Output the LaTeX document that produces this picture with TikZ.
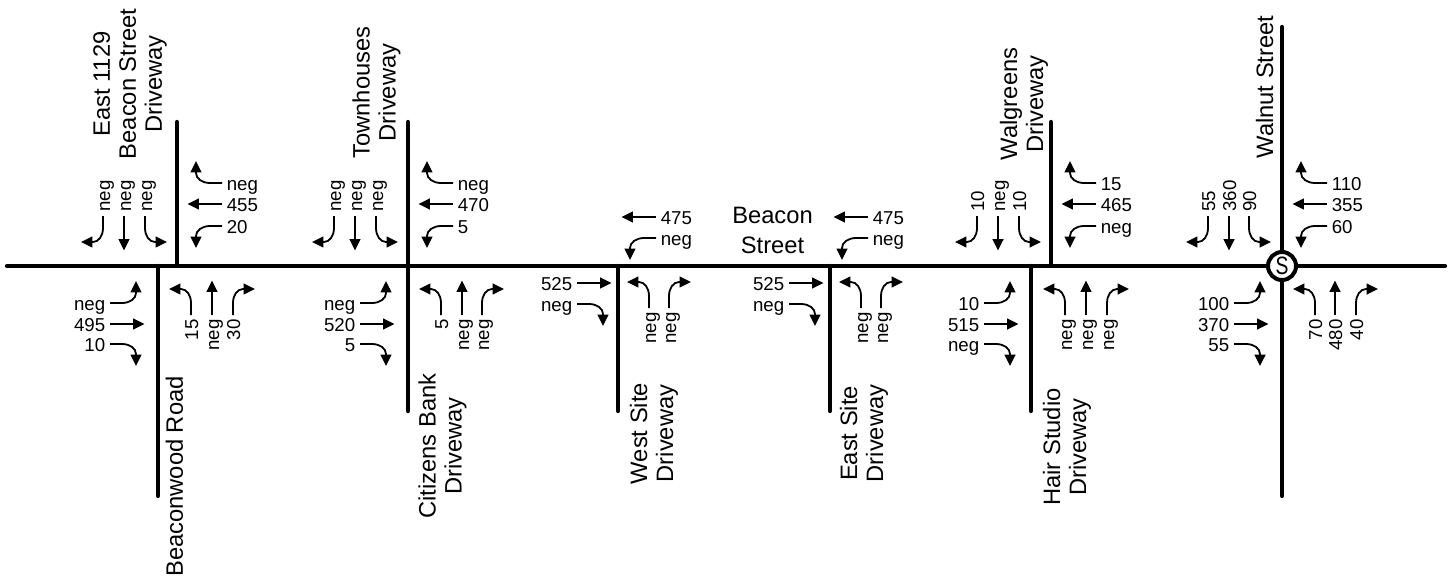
\documentclass[tikz,border=0pt]{standalone}
\usepackage{fontspec}
\setmainfont{Liberation Sans}
\usetikzlibrary{arrows.meta}
\tikzset{
  road/.style={line width=3.2pt, color=black, line cap=round},
  mvarrow/.style={-{Triangle[length=8.6pt,width=8.2pt]}, line width=1.35pt, color=black},
  vol/.style={inner sep=0pt, font=\fontsize{14}{16}\selectfont},
  street/.style={inner sep=0pt, align=center, font=\fontsize{17.8}{19.5}\selectfont},
  signal/.style={circle, draw=black, fill=white, line width=3pt, minimum size=21pt, inner sep=0pt,
    font=\fontsize{14.5}{16}\selectfont}
}
% one arrow: name, x, y, heading
\newcommand{\gothru}[4]{
  \coordinate (#1s) at (#2,#3);
  \path (#1s) ++(#4:34.5) coordinate (#1t);
  \draw[mvarrow] (#1s) -- (#1t);
}
\newcommand{\turnleft}[4]{
  \coordinate (#1s) at (#2,#3);
  \path (#1s) ++(#4:12) coordinate (#1a) ++(#4:8) coordinate (#1b)
    ++(#4:6) ++(#4+90:4.5) coordinate (#1c) ++(#4+90:5.5) coordinate (#1d) ++(#4+90:12) coordinate (#1t);
  \draw[mvarrow] (#1s) -- (#1a) .. controls (#1b) and (#1c) .. (#1d) -- (#1t);
}
\newcommand{\turnright}[4]{
  \coordinate (#1s) at (#2,#3);
  \path (#1s) ++(#4:12) coordinate (#1a) ++(#4:8) coordinate (#1b)
    ++(#4:6) ++(#4-90:4.5) coordinate (#1c) ++(#4-90:5.5) coordinate (#1d) ++(#4-90:12) coordinate (#1t);
  \draw[mvarrow] (#1s) -- (#1a) .. controls (#1b) and (#1c) .. (#1d) -- (#1t);
}
% arrow plus volume: name, x, y, arrow, text
\newcommand{\wbmove}[5]{
  #4{#1}{#2}{#3}{180}
  \path (#1s) ++(4.5,-7) node[vol, anchor=base west] (#1v) {#5};
}
\newcommand{\ebmove}[5]{
  #4{#1}{#2}{#3}{0}
  \path (#1s) ++(-4.5,-7) node[vol, anchor=base east] (#1v) {#5};
}
\newcommand{\sbmove}[5]{
  #4{#1}{#2}{#3}{270}
  \path (#1s) ++(7,4) node[vol, rotate=90, anchor=base west] (#1v) {#5};
}
\newcommand{\nbmove}[5]{
  #4{#1}{#2}{#3}{90}
  \path (#1s) ++(7,-4) node[vol, rotate=90, anchor=base east] (#1v) {#5};
}
\begin{document}
\begin{tikzpicture}[x=0.75pt, y=0.75pt]
  \useasboundingbox (0,-317) rectangle (1452,266);
  % Roads (y = 0 is the main road)
  \coordinate (mainw) at (7,0);
  \coordinate (maine) at (1445,0);
  \draw[road] (mainw) -- (maine);
  \coordinate (eastn) at (177,144);  \coordinate (easts) at (177,0);
  \coordinate (woodn) at (158,0);    \coordinate (woods) at (158,-230);
  \coordinate (townn) at (408,144);  \coordinate (towns) at (408,-145);
  \coordinate (westn) at (618,0);    \coordinate (wests) at (618,-145);
  \coordinate (siten) at (830,0);    \coordinate (sites) at (830,-145);
  \coordinate (walgn) at (1051,144); \coordinate (walgs) at (1051,0);
  \coordinate (hairn) at (1031,0);   \coordinate (hairs) at (1031,-145);
  \coordinate (waln) at (1282,239);  \coordinate (wals) at (1282,-230);
  \draw[road] (eastn) -- (easts);
  \draw[road] (woodn) -- (woods);
  \draw[road] (townn) -- (towns);
  \draw[road] (westn) -- (wests);
  \draw[road] (siten) -- (sites);
  \draw[road] (walgn) -- (walgs);
  \draw[road] (hairn) -- (hairs);
  \draw[road] (waln) -- (wals);
  \node[signal] (sig) at (1282,0) {\scalebox{1}[1.3]{S}};
  % Street names
  \node[street, rotate=90] (eastname) at (130,182) {East 1129\\Beacon Street\\Driveway};
  \node[street, rotate=90] (townname) at (376.5,173.5) {Townhouses\\Driveway};
  \node[street, rotate=90] (walgname) at (1024,162) {Walgreens\\Driveway};
  \node[street, rotate=90] (walnname) at (1264.5,179) {Walnut Street};
  \node[street] (beacname) at (772.5,35.5) {Beacon\\[3pt]Street};
  \node[street, rotate=90] (woodname) at (174.5,-210.5) {Beaconwood Road};
  \node[street, rotate=90] (citiname) at (442.5,-180) {Citizens Bank\\Driveway};
  \node[street, rotate=90] (westname) at (654,-167.5) {West Site\\Driveway};
  \node[street, rotate=90] (sitename) at (864,-167.5) {East Site\\Driveway};
  \node[street, rotate=90] (hairname) at (1067,-181) {Hair Studio\\Driveway};
  % Beaconwood Road
  \sbmove{aa}{103}{50}{\turnright}{neg}
  \sbmove{ab}{124}{50}{\gothru}{neg}
  \sbmove{ac}{145}{50}{\turnleft}{neg}
  \wbmove{ad}{222}{83}{\turnright}{neg}
  \wbmove{ae}{222}{62}{\gothru}{455}
  \wbmove{af}{222}{40}{\turnleft}{20}
  \ebmove{ag}{110}{-37}{\turnleft}{neg}
  \ebmove{ah}{110}{-58}{\gothru}{495}
  \ebmove{ai}{110}{-78}{\turnright}{10}
  \nbmove{aj}{191}{-49}{\turnleft}{15}
  \nbmove{ak}{212}{-49}{\gothru}{neg}
  \nbmove{al}{233}{-49}{\turnright}{30}
  % Townhouses / Citizens Bank
  \sbmove{ba}{334}{50}{\turnright}{neg}
  \sbmove{bb}{355}{50}{\gothru}{neg}
  \sbmove{bc}{376}{50}{\turnleft}{neg}
  \wbmove{bd}{453}{83}{\turnright}{neg}
  \wbmove{be}{453}{62}{\gothru}{470}
  \wbmove{bf}{453}{40}{\turnleft}{5}
  \ebmove{bg}{360}{-37}{\turnleft}{neg}
  \ebmove{bh}{360}{-58}{\gothru}{520}
  \ebmove{bi}{360}{-78}{\turnright}{5}
  \nbmove{bj}{441}{-49}{\turnleft}{5}
  \nbmove{bk}{462}{-49}{\gothru}{neg}
  \nbmove{bl}{482}{-49}{\turnright}{neg}
  % West Site
  \wbmove{ca}{656}{49}{\gothru}{475}
  \wbmove{cb}{656}{28}{\turnleft}{neg}
  \ebmove{cc}{577}{-17}{\gothru}{525}
  \ebmove{cd}{577}{-38}{\turnright}{neg}
  \nbmove{ce}{649}{-42}{\turnleft}{neg}
  \nbmove{cf}{669}{-42}{\turnright}{neg}
  % East Site
  \wbmove{da}{868}{49}{\gothru}{475}
  \wbmove{db}{868}{28}{\turnleft}{neg}
  \ebmove{dc}{789}{-17}{\gothru}{525}
  \ebmove{dd}{789}{-38}{\turnright}{neg}
  \nbmove{de}{861}{-42}{\turnleft}{neg}
  \nbmove{df}{881}{-42}{\turnright}{neg}
  % Walgreens / Hair Studio
  \sbmove{ea}{977}{50}{\turnright}{10}
  \sbmove{eb}{998}{50}{\gothru}{neg}
  \sbmove{ec}{1019}{50}{\turnleft}{10}
  \wbmove{ed}{1096}{83}{\turnright}{15}
  \wbmove{ee}{1096}{62}{\gothru}{465}
  \wbmove{ef}{1096}{40}{\turnleft}{neg}
  \ebmove{eg}{984}{-37}{\turnleft}{10}
  \ebmove{eh}{984}{-58}{\gothru}{515}
  \ebmove{ei}{984}{-78}{\turnright}{neg}
  \nbmove{ej}{1065}{-49}{\turnleft}{neg}
  \nbmove{ek}{1086}{-49}{\gothru}{neg}
  \nbmove{el}{1107}{-49}{\turnright}{neg}
  % Walnut Street
  \sbmove{fa}{1208}{50}{\turnright}{55}
  \sbmove{fb}{1229}{50}{\gothru}{360}
  \sbmove{fc}{1249}{50}{\turnleft}{90}
  \wbmove{fd}{1327}{83}{\turnright}{110}
  \wbmove{fe}{1327}{62}{\gothru}{355}
  \wbmove{ff}{1327}{40}{\turnleft}{60}
  \ebmove{fg}{1234}{-37}{\turnleft}{100}
  \ebmove{fh}{1234}{-58}{\gothru}{370}
  \ebmove{fi}{1234}{-78}{\turnright}{55}
  \nbmove{fj}{1315}{-49}{\turnleft}{70}
  \nbmove{fk}{1335}{-49}{\gothru}{480}
  \nbmove{fl}{1356}{-49}{\turnright}{40}
\end{tikzpicture}
\end{document}
